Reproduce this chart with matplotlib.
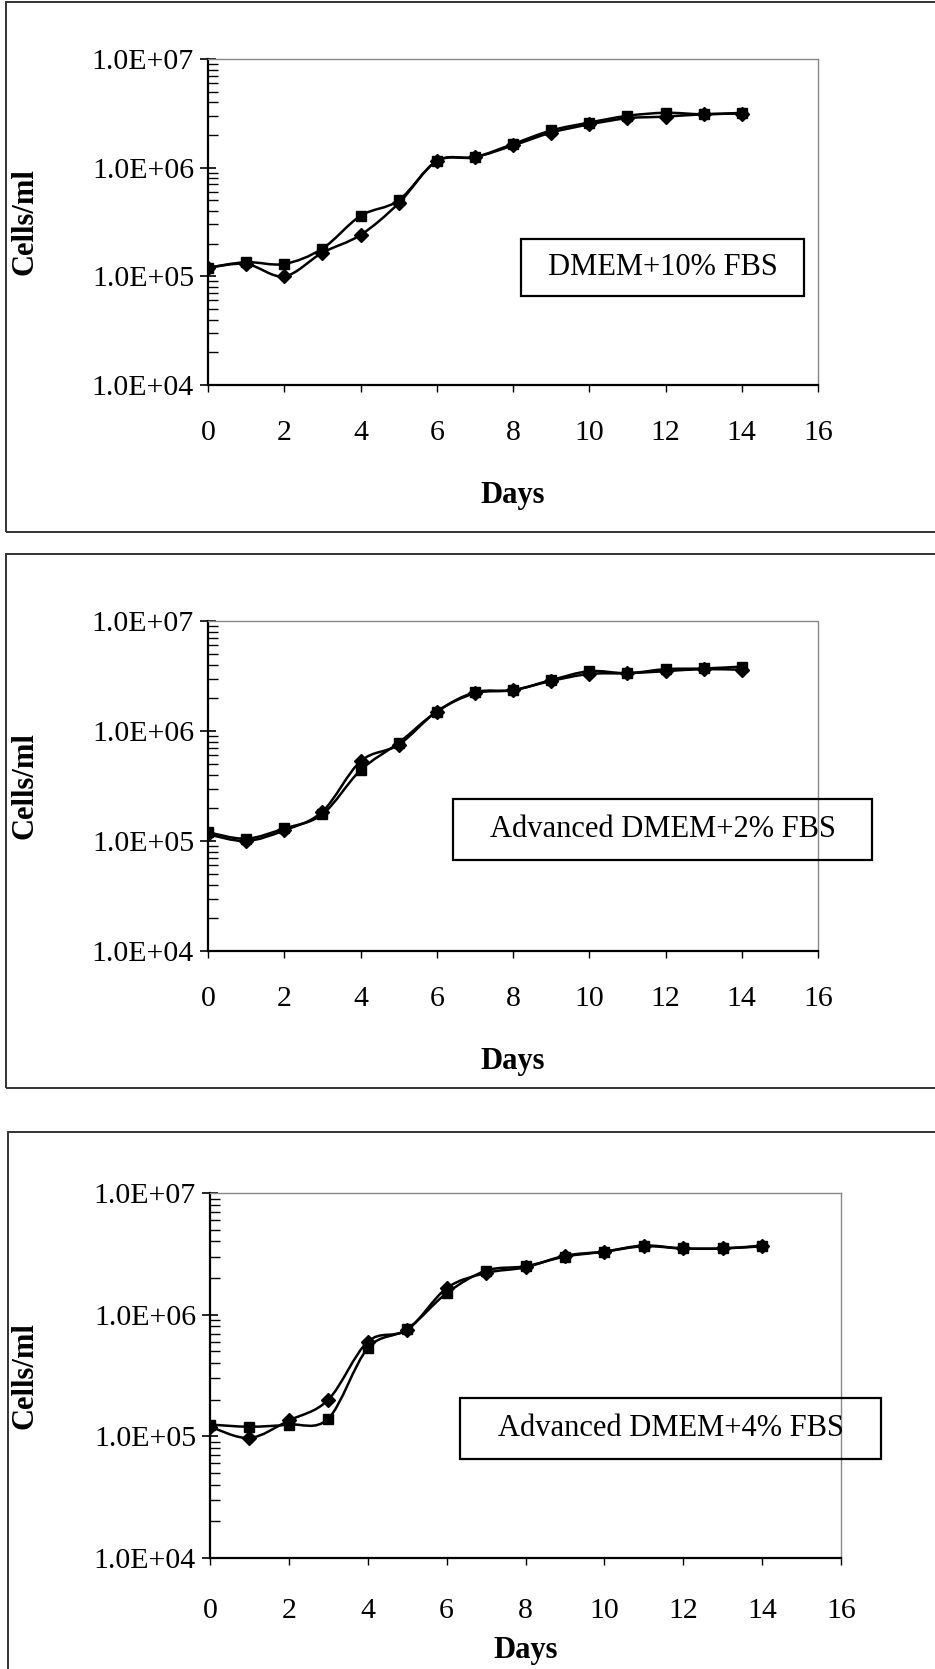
import numpy as np
import matplotlib
matplotlib.use("Agg")
import matplotlib.pyplot as plt
from matplotlib.path import Path
from matplotlib.patches import PathPatch, Rectangle
from matplotlib.ticker import LogLocator, FuncFormatter, NullFormatter

plt.rcParams['font.family'] = ['Liberation Serif', 'DejaVu Serif']

days = list(range(15))

# DMEM + 10% FBS
dmem10_sq = [1.2e5, 1.35e5, 1.3e5, 1.8e5, 3.6e5, 5.0e5, 1.15e6, 1.25e6,
             1.65e6, 2.2e6, 2.6e6, 3.0e6, 3.2e6, 3.1e6, 3.2e6]
dmem10_di = [1.2e5, 1.3e5, 1.0e5, 1.65e5, 2.4e5, 4.7e5, 1.15e6, 1.25e6,
             1.6e6, 2.1e6, 2.5e6, 2.85e6, 2.95e6, 3.1e6, 3.15e6]

# Advanced DMEM + 2% FBS
adv2_sq = [1.2e5, 1.05e5, 1.3e5, 1.75e5, 4.4e5, 7.8e5, 1.5e6, 2.25e6,
           2.35e6, 2.9e6, 3.5e6, 3.35e6, 3.65e6, 3.7e6, 3.85e6]
adv2_di = [1.15e5, 1.0e5, 1.25e5, 1.85e5, 5.3e5, 7.5e5, 1.5e6, 2.2e6,
           2.35e6, 2.85e6, 3.3e6, 3.35e6, 3.5e6, 3.65e6, 3.6e6]

# Advanced DMEM + 4% FBS
adv4_sq = [1.25e5, 1.2e5, 1.25e5, 1.4e5, 5.3e5, 7.6e5, 1.5e6, 2.3e6,
           2.5e6, 3.0e6, 3.3e6, 3.7e6, 3.5e6, 3.5e6, 3.7e6]
adv4_di = [1.2e5, 0.97e5, 1.35e5, 2.0e5, 6.0e5, 7.5e5, 1.65e6, 2.2e6,
           2.45e6, 3.05e6, 3.3e6, 3.65e6, 3.5e6, 3.5e6, 3.65e6]

titles = ['DMEM+10% FBS', 'Advanced DMEM+2% FBS', 'Advanced DMEM+4% FBS']
series = [(dmem10_sq, dmem10_di), (adv2_sq, adv2_di), (adv4_sq, adv4_di)]

W, H = 935, 1669
fig = plt.figure(figsize=(W / 100, H / 100), dpi=100)

# pixel layout: (left, right, top, bottom) of each plot area
axes_px = [(208, 818, 59, 385), (208, 818, 621, 951), (210, 841, 1193, 1558)]
# outer frames (left, top, bottom)
frames_px = [(6, 2, 532), (6, 554, 1088), (8, 1132, 1672)]
# text boxes in axes fractions (x0, x1, y0, y1)
boxes = [(0.513, 0.977, 0.273, 0.448), (0.402, 1.089, 0.275, 0.46),
         (0.396, 1.064, 0.271, 0.438)]
days_label_y = [495, 1062, 1650]
tick_pad = [20, 20, 24]


def smooth_path(x, y):
    # Catmull-Rom style bezier through the points, in log space
    lx = np.asarray(x, float)
    ly = np.log10(np.asarray(y, float))
    n = len(lx)
    verts = [(lx[0], ly[0])]
    codes = [Path.MOVETO]
    for i in range(n - 1):
        a = i - 1 if i > 0 else i
        b = i + 2 if i + 2 < n else i + 1
        c1 = (lx[i] + (lx[i + 1] - lx[a]) / 6, ly[i] + (ly[i + 1] - ly[a]) / 6)
        c2 = (lx[i + 1] - (lx[b] - lx[i]) / 6, ly[i + 1] - (ly[b] - ly[i]) / 6)
        verts += [c1, c2, (lx[i + 1], ly[i + 1])]
        codes += [Path.CURVE4] * 3
    verts = [(vx, 10 ** vy) for vx, vy in verts]
    return Path(verts, codes)


def sci(v, pos):
    return f'{v:.1E}'


for k in range(3):
    l, r, t, b = axes_px[k]
    ax = fig.add_axes([l / W, 1 - b / H, (r - l) / W, (b - t) / H])
    ax.set_yscale('log')
    ax.set_xlim(0, 16)
    ax.set_ylim(1e4, 1e7)
    sq, di = series[k]
    for vals, mk, ms in [(sq, 's', 7), (di, 'D', 7)]:
        ax.add_patch(PathPatch(smooth_path(days, vals), fill=False,
                               edgecolor='black', lw=1.8, zorder=3))
        ax.plot(days, vals, linestyle='none', marker=mk, ms=ms,
                color='black', zorder=4)

    ax.set_xticks(range(0, 17, 2))
    ax.yaxis.set_major_locator(LogLocator(base=10, numticks=10))
    ax.yaxis.set_minor_locator(LogLocator(base=10, subs=np.arange(2, 10), numticks=10))
    ax.yaxis.set_major_formatter(FuncFormatter(sci))
    ax.yaxis.set_minor_formatter(NullFormatter())
    ax.tick_params(axis='y', which='major', direction='inout', length=12,
                   width=1.2, labelsize=21.5, pad=4)
    ax.tick_params(axis='y', which='minor', direction='in', length=7, width=1.0)
    ax.tick_params(axis='x', which='major', direction='out', length=5,
                   width=1.0, labelsize=21.5, pad=tick_pad[k])

    for s in ['left', 'bottom']:
        ax.spines[s].set_linewidth(1.6)
    for s in ['top', 'right']:
        ax.spines[s].set_color('#888888')
        ax.spines[s].set_linestyle((0, (1, 1)))
        ax.spines[s].set_linewidth(1.0)

    fig.text(25 / W, 1 - ((t + b) / 2) / H, 'Cells/ml', rotation=90,
             ha='center', va='center', fontsize=22, fontweight='bold')

    x0, x1, y0, y1 = boxes[k]
    ax.add_patch(Rectangle((x0, y0), x1 - x0, y1 - y0, transform=ax.transAxes,
                           fill=False, edgecolor='black', lw=1.6,
                           clip_on=False, zorder=5))
    ax.text((x0 + x1) / 2, (y0 + y1) / 2, titles[k], transform=ax.transAxes,
            ha='center', va='center', fontsize=22, zorder=6)

    fig.text(((l + r) / 2) / W, 1 - days_label_y[k] / H, 'Days', ha='center',
             va='center', fontsize=22, fontweight='bold')

    fl, ft, fb = frames_px[k]
    fig.add_artist(Rectangle((fl / W, 1 - fb / H), (W + 10 - fl) / W, (fb - ft) / H,
                             transform=fig.transFigure, fill=False,
                             edgecolor='#333333', lw=1.4))

fig.savefig('out.png', dpi=100)
